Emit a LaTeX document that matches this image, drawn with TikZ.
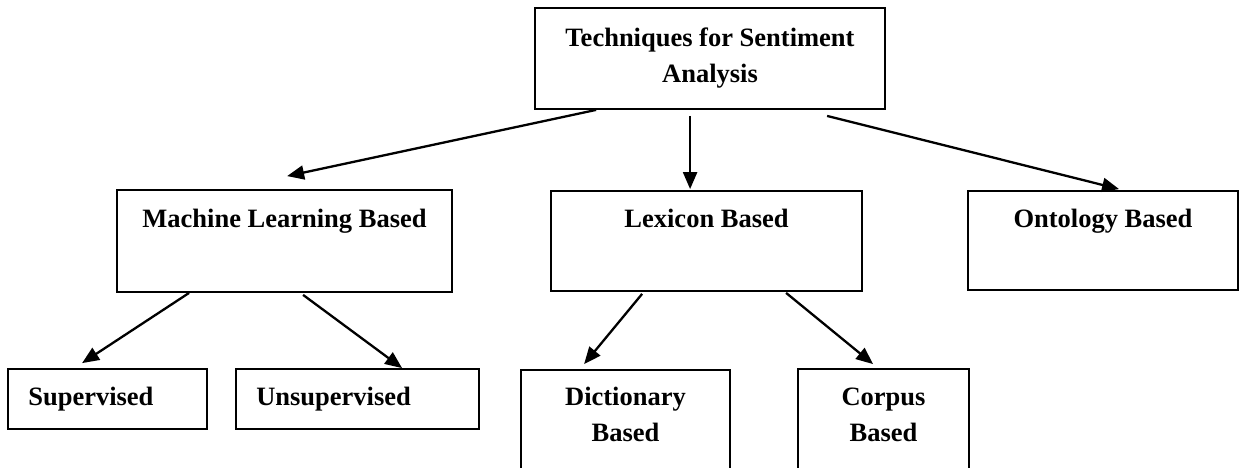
\documentclass[tikz,border=0pt]{standalone}
\usepackage{fontspec}
\setmainfont{Liberation Serif}
\usetikzlibrary{arrows.meta,calc}
\begin{document}
\begin{tikzpicture}[x=1pt,y=-1pt,
  box/.style={draw=black, line width=1.8pt, rectangle, inner sep=0pt, fill=white},
  txt/.style={font=\fontsize{26.5}{36}\selectfont\bfseries, inner sep=0pt},
  arr/.style={line width=2.3pt, -{Triangle[length=17pt,width=14pt]}}]
\useasboundingbox (0,0) rectangle (1239,467);
\clip (0,0) rectangle (1239,467);
\fill[white] (0,0) rectangle (1239,467);

% top
\node[box, txt, minimum width=350pt, minimum height=101pt, align=center] (top) at (710,58.5) {Techniques for Sentiment\\Analysis};

% second level
\node[box, minimum width=335pt, minimum height=102pt,
  label={[txt, anchor=base, yshift=-38pt]north:Machine Learning Based}] (ml) at (284.5,241) {};
\node[box, minimum width=311pt, minimum height=100pt,
  label={[txt, anchor=base, yshift=-37pt]north:Lexicon Based}] (lex) at (706.5,241) {};
\node[box, minimum width=270pt, minimum height=99pt,
  label={[txt, anchor=base, yshift=-37pt]north:Ontology Based}] (onto) at (1103,240.5) {};

% third level
\node[box, minimum width=199pt, minimum height=60pt,
  label={[txt, anchor=base west, xshift=21pt, yshift=-37pt]north west:Supervised}] (sup) at (107.5,399) {};
\node[box, minimum width=243pt, minimum height=60pt,
  label={[txt, anchor=base west, xshift=21pt, yshift=-37pt]north west:Unsupervised}] (unsup) at (357.5,399) {};
\node[box, minimum width=209pt, minimum height=110pt,
  label={[txt, align=center, anchor=north, yshift=-18pt]north:Dictionary\\Based}] (dict) at (625.5,425) {};
\node[box, minimum width=171pt, minimum height=112pt,
  label={[txt, align=center, anchor=north, yshift=-20pt]north:Corpus\\Based}] (corp) at (883.5,425) {};

% arrows
\draw[arr] ($(top.south west)+(62,0)$) -- ($(ml.north west)+(171,-13)$);
\draw[arr] ($(top.south west)+(156,6)$) -- ($(lex.north west)+(140,-1)$);
\draw[arr] ($(top.south west)+(293,6)$) -- ($(onto.north west)+(152,-1)$);
\draw[arr] ($(ml.south west)+(73,0)$) -- ($(sup.north west)+(75,-5)$);
\draw[arr] ($(ml.south west)+(187,2)$) -- ($(unsup.north west)+(167,0)$);
\draw[arr] ($(lex.south west)+(92,2)$) -- ($(dict.north west)+(64,-5)$);
\draw[arr] ($(lex.south west)+(236,1)$) -- ($(corp.north west)+(76,-4)$);
\end{tikzpicture}
\end{document}
